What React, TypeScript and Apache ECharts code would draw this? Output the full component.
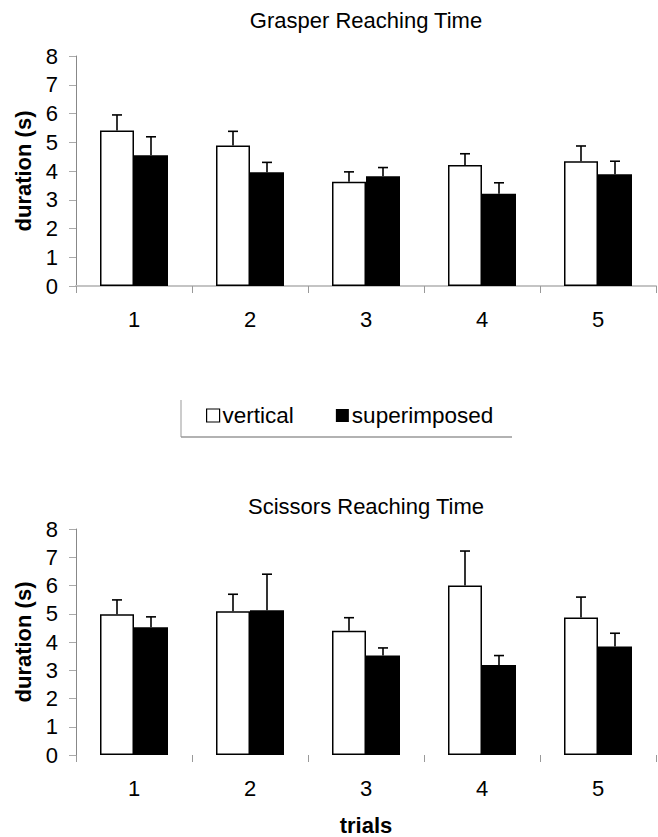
import React, { useEffect, useRef } from "react";
import * as echarts from "echarts";

const categories = ["1", "2", "3", "4", "5"];

const grasperVertical = [5.41, 4.89, 3.63, 4.21, 4.34];
const grasperVerticalErr = [0.54, 0.49, 0.34, 0.39, 0.53];
const grasperSuper = [4.55, 3.96, 3.82, 3.21, 3.89];
const grasperSuperErr = [0.64, 0.34, 0.3, 0.38, 0.45];

const scissorsVertical = [4.98, 5.09, 4.4, 6.0, 4.87];
const scissorsVerticalErr = [0.51, 0.6, 0.46, 1.22, 0.72];
const scissorsSuper = [4.52, 5.12, 3.52, 3.19, 3.84];
const scissorsSuperErr = [0.37, 1.28, 0.27, 0.33, 0.47];

const titles = ["Grasper Reaching Time", "Scissors Reaching Time"];
const seriesNames = ["vertical", "superimposed"];

const FONT = "Liberation Sans, Arial, sans-serif";
const BAR_W = 34;

export default function App() {
  const ref = useRef<HTMLDivElement>(null);

  useEffect(() => {
    document.body.style.margin = "0";
    const chart = echarts.init(ref.current!, null, { renderer: "svg" });

    const errSeries = (
      grid: number,
      means: number[],
      errs: number[],
      side: number,
      name: string
    ) => ({
      type: "custom",
      name: name + " error",
      xAxisIndex: grid,
      yAxisIndex: grid,
      z: 1,
      silent: true,
      data: means.map((m, i) => [i, m, m + errs[i]]),
      renderItem: (params: any, api: any) => {
        const base = api.coord([api.value(0), api.value(1)]);
        const top = api.coord([api.value(0), api.value(2)]);
        const x = base[0] + (side * BAR_W) / 2;
        const st = { stroke: "#000", lineWidth: 1.6 };
        return {
          type: "group",
          children: [
            { type: "line", shape: { x1: x, y1: base[1], x2: x, y2: top[1] }, style: st },
            { type: "line", shape: { x1: x - 5, y1: top[1], x2: x + 5, y2: top[1] }, style: st },
          ],
        };
      },
    });

    const xAxisBase = (grid: number, showLine: boolean) => ({
      type: "category",
      gridIndex: grid,
      data: categories,
      axisLine: { show: showLine, lineStyle: { color: "#c4c4c4", width: 2 } },
      axisTick: { show: true, length: 7, lineStyle: { color: "#999", width: 1 } },
      axisLabel: { color: "#000", fontSize: 22, fontFamily: FONT, margin: 22 },
      splitLine: { show: false },
    });

    const yAxisBase = (grid: number) => ({
      type: "value",
      gridIndex: grid,
      min: 0,
      max: 8,
      interval: 1,
      name: "duration (s)",
      nameLocation: "middle",
      nameGap: 42,
      nameTextStyle: { color: "#000", fontSize: 22, fontWeight: "bold", fontFamily: FONT },
      axisLine: { show: true, lineStyle: { color: "#888", width: 1 } },
      axisTick: { show: true, length: 7, lineStyle: { color: "#aaa", width: 1 } },
      axisLabel: { color: "#000", fontSize: 22, fontFamily: FONT, margin: 18 },
      splitLine: { show: false },
    });

    const barSeries = (grid: number, name: string, data: number[], fill: string) => ({
      type: "bar",
      name,
      xAxisIndex: grid,
      yAxisIndex: grid,
      data,
      barWidth: BAR_W,
      barGap: "0%",
      z: 2,
      itemStyle: { color: fill, borderColor: "#000", borderWidth: fill === "#fff" ? 1.5 : 0 },
    });

    chart.setOption({
      animation: false,
      backgroundColor: "#fff",
      title: [
        {
          text: titles[0],
          left: 366,
          top: 9,
          textAlign: "center",
          padding: 0,
          textStyle: { color: "#000", fontSize: 22, fontWeight: "normal", fontFamily: FONT },
        },
        {
          text: titles[1],
          left: 366,
          top: 495,
          textAlign: "center",
          padding: 0,
          textStyle: { color: "#000", fontSize: 22, fontWeight: "normal", fontFamily: FONT },
        },
      ],
      legend: {
        left: 201,
        top: 399,
        itemWidth: 13,
        itemHeight: 13,
        itemGap: 42,
        icon: "rect",
        selectedMode: false,
        textStyle: { color: "#000", fontSize: 22.5, fontFamily: FONT, padding: [0, 0, 0, -2] },
        data: [
          { name: seriesNames[0], itemStyle: { color: "#fff", borderColor: "#000", borderWidth: 1.2 } },
          { name: seriesNames[1], itemStyle: { color: "#000", borderWidth: 0 } },
        ],
      },
      graphic: [
        { type: "line", shape: { x1: 181, y1: 400, x2: 181, y2: 437 }, style: { stroke: "#999", lineWidth: 1 } },
        { type: "line", shape: { x1: 181, y1: 437, x2: 512, y2: 437 }, style: { stroke: "#999", lineWidth: 1.5 } },
      ],
      grid: [
        { left: 76, top: 56, width: 580, height: 230 },
        { left: 76, top: 529, width: 580, height: 227 },
      ],
      xAxis: [
        xAxisBase(0, true),
        {
          ...xAxisBase(1, false),
          name: "trials",
          nameLocation: "middle",
          nameGap: 59,
          nameTextStyle: { color: "#000", fontSize: 22, fontWeight: "bold", fontFamily: FONT },
        },
      ],
      yAxis: [yAxisBase(0), yAxisBase(1)],
      series: [
        barSeries(0, seriesNames[0], grasperVertical, "#fff"),
        barSeries(0, seriesNames[1], grasperSuper, "#000"),
        errSeries(0, grasperVertical, grasperVerticalErr, -1, seriesNames[0]),
        errSeries(0, grasperSuper, grasperSuperErr, 1, seriesNames[1]),
        barSeries(1, seriesNames[0], scissorsVertical, "#fff"),
        barSeries(1, seriesNames[1], scissorsSuper, "#000"),
        errSeries(1, scissorsVertical, scissorsVerticalErr, -1, seriesNames[0]),
        errSeries(1, scissorsSuper, scissorsSuperErr, 1, seriesNames[1]),
      ],
    });

    return () => chart.dispose();
  }, []);

  return <div ref={ref} style={{ width: 658, height: 837 }} />;
}
